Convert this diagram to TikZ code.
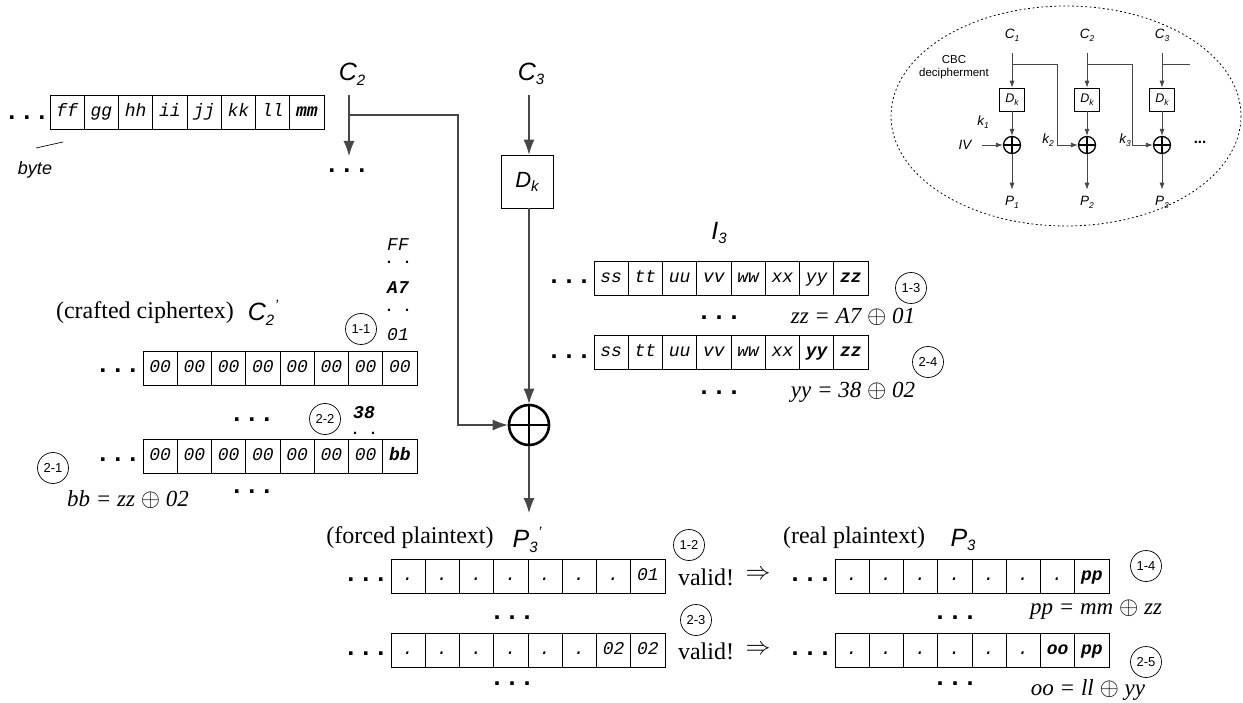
\documentclass[tikz,border=0pt]{standalone}
\usepackage{fontspec}
\setmainfont{Liberation Serif}
\setsansfont{Liberation Sans}
\setmonofont{Liberation Mono}
\usetikzlibrary{arrows.meta}

\newcommand{\lsub}[2]{#1\raisebox{-0.35ex}{\fontsize{15}{15}\selectfont #2}}
\newcommand{\lsubp}[2]{#1\raisebox{-0.35ex}{\fontsize{15}{15}\selectfont #2}\hspace{0.02em}\raisebox{0.75ex}{\fontsize{15}{15}\selectfont '}}
\newcommand{\isub}[2]{#1\raisebox{-0.4ex}{\fontsize{8.5}{8.5}\selectfont #2}}
\newcommand{\byterow}[4]{%
  \foreach \t [count=\i] in {#4} {%
    \node[cell] (#1-\i) at ({#2+(\i-0.5)*34.25},{#3+17}) {\t};
  }%
}

\tikzset{
  cell/.style={draw, line width=0.8pt, minimum width=34.25pt, minimum height=34pt,
    inner sep=0pt, text height=12.5pt, text depth=3.5pt,
    font=\ttfamily\itshape\fontsize{18}{18}\selectfont},
  coltxt/.style={inner sep=0pt, font=\ttfamily\itshape\fontsize{18}{18}\selectfont},
  dotsl/.style={inner sep=0pt, anchor=base, font=\ttfamily\bfseries\fontsize{25}{25}\selectfont},
  dotsv/.style={inner sep=0pt, anchor=base, font=\ttfamily\bfseries\fontsize{15}{15}\selectfont},
  big/.style={inner sep=0pt, font=\sffamily\itshape\fontsize{25}{25}\selectfont},
  serif/.style={inner sep=0pt, font=\rmfamily\fontsize{24}{24}\selectfont},
  eq/.style={inner sep=0pt, font=\rmfamily\itshape\fontsize{23}{23}\selectfont},
  stepc/.style={draw, circle, line width=0.7pt, minimum size=31pt, inner sep=0pt,
    font=\sffamily\fontsize{13}{13}\selectfont},
  conn/.style={draw=black!72, line width=1.1pt},
  arr/.style={conn, -{Latex[length=15pt,width=11pt]}},
  xorsym/.style={draw, circle, inner sep=0pt,
    path picture={\draw[line width=\pgflinewidth]
      (path picture bounding box.north) -- (path picture bounding box.south)
      (path picture bounding box.west) -- (path picture bounding box.east);}},
  small/.style={inner sep=0pt, font=\sffamily\itshape\fontsize{13.5}{13.5}\selectfont},
  ibox/.style={draw, line width=0.6pt, minimum width=25pt, minimum height=23pt, inner sep=0pt,
    font=\sffamily\itshape\fontsize{12.5}{12.5}\selectfont},
  iconn/.style={draw=black!72, line width=0.8pt},
  iarr/.style={iconn, -{Latex[length=7pt,width=5pt]}},
  impl/.style={inner sep=0pt, font=\fontsize{30}{30}\selectfont},
}

\begin{document}
\begin{tikzpicture}[x=1pt, y=-1pt]
\useasboundingbox (0,0) rectangle (1243,703);

% ---------------- top byte row (C2) ----------------
\node[dotsl] (tdots) at (27,120) {...};
\byterow{top}{50}{95}{ff,gg,hh,ii,jj,kk,ll,\textbf{mm}}
\node[inner sep=0pt, font=\sffamily\itshape\fontsize{18}{18}\selectfont] (byte) at (35,170) {byte};
\coordinate (bytel) at (36,148);
\coordinate (byter) at (63,142);
\draw[line width=0.7pt] (bytel) -- (byter);

\node[big] (c2) at (352,74) {\lsub{C}{2}};
\coordinate (c2top) at (349,95);
\coordinate (c2tip) at (349,156);
\coordinate (j) at (349,115);
\coordinate (jr) at (458,115);
\draw[arr] (c2top) -- (c2tip);
\node[dotsl] (c2dots) at (347,173) {...};

% ---------------- C3, Dk, XOR ----------------
\node[big] (c3) at (531,74) {\lsub{C}{3}};
\coordinate (c3top) at (529,95);
\node[draw, line width=0.8pt, minimum width=52pt, minimum height=53pt, inner sep=0pt,
  font=\sffamily\itshape\fontsize{22}{22}\selectfont] (dk) at (527,181.5) {\lsub{D}{k}};
\node[xorsym, line width=2.6pt, minimum size=40pt] (xor) at (529,425) {};
\coordinate (p3tip) at (529,513);
\draw[arr] (c3top) -- (c3top |- dk.north);
\draw[arr] (dk.south -| xor) -- (xor.north);
\draw[arr] (j) -- (jr) |- (xor.west);
\draw[arr] (xor.south) -- (p3tip);

% ---------------- I3 ----------------
\node[big] (i3) at (719,233) {\lsub{I}{3}};
\node[dotsl] (i3d1) at (569,284) {...};
\byterow{ia}{594}{261}{ss,tt,uu,vv,ww,xx,yy,\textbf{zz}}
\node[dotsl] (i3d2) at (719,320) {...};
\node[eq] (eqa) at (853,317) {zz = A7 $\oplus$ 01};
\node[stepc] (s13) at (911,288) {1-3};
\node[dotsl] (i3d3) at (569,358.5) {...};
\byterow{ib}{594}{335.5}{ss,tt,uu,vv,ww,xx,\textbf{yy},\textbf{zz}}
\node[dotsl] (i3d4) at (719,395) {...};
\node[eq] (eqb) at (853,392) {yy = 38 $\oplus$ 02};
\node[stepc] (s24) at (928,362) {2-4};

% ---------------- crafted C2' ----------------
\node[serif] (crafted) at (145,313) {(crafted ciphertex)};
\node[big] (c2p) at (263,313) {\lsubp{C}{2}};
\node[coltxt] (ff) at (398,245) {FF};
\node[dotsv] (v1) at (398,264) {. .};
\node[coltxt] (a7) at (398,288) {\textbf{A7}};
\node[dotsv] (v2) at (398,312) {. .};
\node[coltxt] (o1) at (398,335) {01};
\node[stepc] (s11) at (361,329) {1-1};
\node[dotsl] (cd1) at (118,373) {...};
\byterow{ca}{143}{351}{00,00,00,00,00,00,00,00}
\node[dotsl] (cd2) at (252,421) {...};
\node[stepc] (s22) at (325,419) {2-2};
\node[coltxt] (t38) at (364,413) {\textbf{38}};
\node[dotsv] (v3) at (364,435) {. .};
\node[dotsl] (cd3) at (118,461) {...};
\byterow{cb}{143}{439}{00,00,00,00,00,00,00,\textbf{bb}}
\node[dotsl] (cd4) at (252,493) {...};
\node[stepc] (s21) at (53,468) {2-1};
\node[eq] (eqc) at (128,500) {bb = zz $\oplus$ 02};

% ---------------- forced plaintext P3' ----------------
\node[serif] (forced) at (410,538) {(forced plaintext)};
\node[big] (p3p) at (527,540) {\lsubp{P}{3}};
\node[dotsl] (pd1) at (366,581) {...};
\byterow{pa}{391}{559}{.,.,.,.,.,.,.,01}
\node[dotsl] (pd2) at (512,619) {...};
\node[dotsl] (pd3) at (366,655) {...};
\byterow{pb}{391}{633}{.,.,.,.,.,.,02,02}
\node[dotsl] (pd4) at (512,685) {...};
\node[stepc] (s12) at (689,545) {1-2};
\node[stepc] (s23) at (696,620) {2-3};
\node[serif] (val1) at (706,577) {valid!};
\node[serif] (val2) at (706,651) {valid!};
\node[impl] (imp1) at (758,575) {$\Rightarrow$};
\node[impl] (imp2) at (758,650) {$\Rightarrow$};

% ---------------- real plaintext P3 ----------------
\node[serif] (real) at (854,538) {(real plaintext)};
\node[big] (p3) at (963,540) {\lsub{P}{3}};
\node[dotsl] (rd1) at (810,581) {...};
\byterow{ra}{835}{559}{.,.,.,.,.,.,.,\textbf{pp}}
\node[dotsl] (rd2) at (955,619) {...};
\node[eq] (eqd) at (1096,610) {pp = mm $\oplus$ zz};
\node[stepc] (s14) at (1146,566) {1-4};
\node[dotsl] (rd3) at (810,655) {...};
\byterow{rb}{835}{633}{.,.,.,.,.,.,\textbf{oo},\textbf{pp}}
\node[dotsl] (rd4) at (955,685) {...};
\node[eq] (eqe) at (1088,690) {oo = ll $\oplus$ yy};
\node[stepc] (s25) at (1146,662) {2-5};

% ---------------- inset: CBC decipherment ----------------
\draw[line width=0.8pt, dash pattern=on 1.8pt off 2.6pt] (1066,116) ellipse [x radius=175, y radius=110];
\node[inner sep=0pt, align=center, font=\sffamily\fontsize{11.5}{13}\selectfont] (cbc) at (954,67) {CBC\\decipherment};
\foreach \n/\x in {1/1012, 2/1087, 3/1162} {
  \node[small] (ic\n) at (\x,35) {\isub{C}{\n}};
  \coordinate (it\n) at (\x,53);
  \coordinate (ib\n) at (\x,64);
  \node[ibox] (id\n) at (\x,99.5) {\isub{D}{k}};
  \node[xorsym, line width=1.3pt, minimum size=17pt] (ix\n) at (\x,145) {};
  \node[small] (ip\n) at (\x,202) {\isub{P}{\n}};
  \draw[iarr] (it\n) -- (id\n.north);
  \draw[iarr] (id\n.south) -- (ix\n.north);
  \draw[iarr] (ix\n.south) -- ([yshift=6pt]ip\n.north);
}
\draw[iarr] (ib1) -- (1057,64) |- (ix2.west);
\draw[iarr] (ib2) -- (1132,64) |- (ix3.west);
\coordinate (ib3e) at (1190,64);
\draw[iconn] (ib3) -- (ib3e);
\node[small] (iv) at (965,145) {IV};
\coordinate (ivs) at (982,145);
\draw[iarr] (ivs) -- (ix1.west);
\node[small] (k1) at (983,122) {\isub{k}{1}};
\node[small] (k2) at (1048,140) {\isub{k}{2}};
\node[small] (k3) at (1125,140) {\isub{k}{3}};
\node[inner sep=0pt, font=\sffamily\bfseries\fontsize{15}{15}\selectfont] (idots) at (1200,142) {...};
\end{tikzpicture}
\end{document}
